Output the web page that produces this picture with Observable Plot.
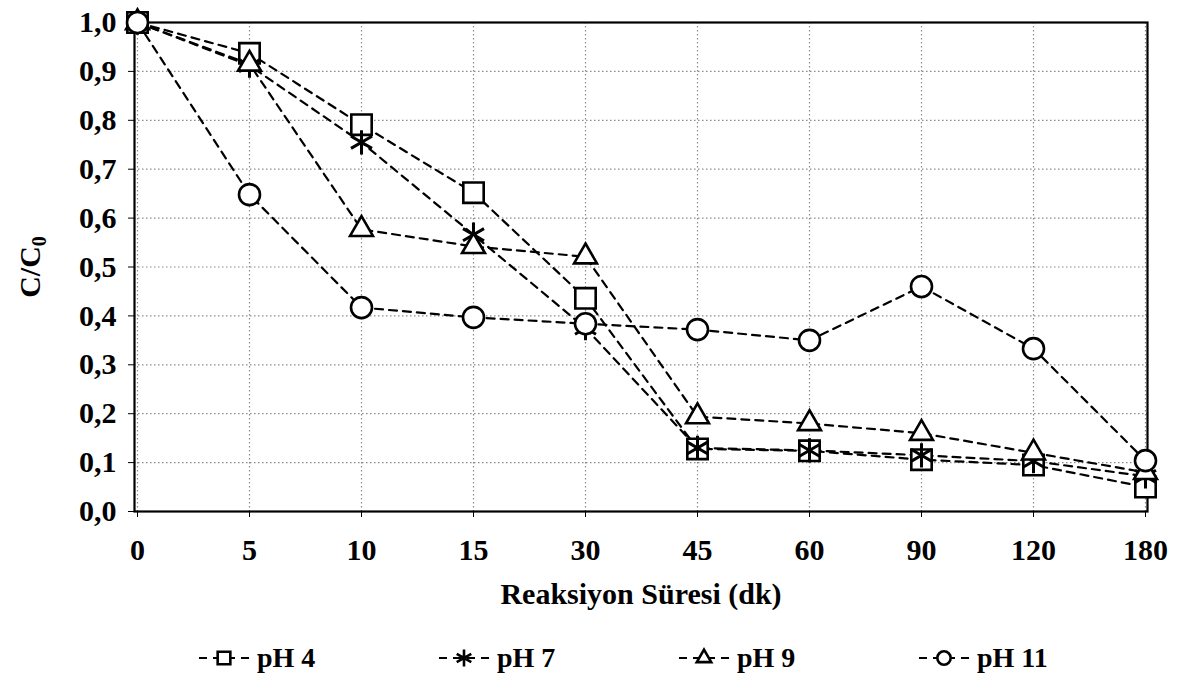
<!DOCTYPE html>
<html><head><meta charset="utf-8">
<script src="https://cdn.jsdelivr.net/npm/d3@7"></script>
<script src="https://cdn.jsdelivr.net/npm/@observablehq/plot@0.6"></script>
<style>
body{margin:0;background:#fff;font-family:"Liberation Serif",Tinos,"Times New Roman",Times,"DejaVu Serif",serif;}
#chart{width:1181px;height:681px;position:relative;overflow:hidden}
#legend{position:absolute;left:0;top:638px;width:1181px;height:40px}
.item{position:absolute;top:0;height:40px;display:flex;align-items:center;font-weight:bold;font-size:28px;color:#000;white-space:nowrap}
.item svg{margin-right:4px}
svg text{font-family:"Liberation Serif",Tinos,"Times New Roman",Times,"DejaVu Serif",serif !important;}
</style></head><body><div id="chart"><div id="plot"></div><div id="legend"></div></div>
<script>
const times = ["0","5","10","15","30","45","60","90","120","180"];
const pH4  = [1.000,0.937,0.791,0.652,0.436,0.128,0.124,0.106,0.095,0.050];
const pH7  = [1.000,0.912,0.755,0.566,0.375,0.130,0.125,0.115,0.103,0.072];
const pH9  = [1.000,0.915,0.577,0.542,0.521,0.194,0.180,0.160,0.120,0.080];
const pH11 = [1.000,0.648,0.417,0.397,0.384,0.372,0.350,0.460,0.333,0.104];
const seriesNames = ["pH 4","pH 7","pH 9","pH 11"];
const seriesSymbols = ["square","asterisk","triangle","circle"];
const yTicks = [0,0.1,0.2,0.3,0.4,0.5,0.6,0.7,0.8,0.9,1.0];

const seriesValues = [pH4,pH7,pH9,pH11];
const rows = [];
seriesNames.forEach((s,i)=>times.forEach((t,j)=>rows.push({s, t, v: seriesValues[i][j]})));
const sizes = {"square":11.5,"asterisk":11.5,"triangle":8.5,"circle":10.5};

const fmt = d => d.toFixed(1).replace(".", ",");
const grid = {stroke:"#8a8a8a", strokeOpacity:1, strokeWidth:1.2, strokeDasharray:"1.5,2.5"};
const FONT = "Liberation Serif, Tinos, Times New Roman, Times, DejaVu Serif, serif";

const marks = [
  Plot.gridX(times, grid),
  Plot.gridY(yTicks, grid),
  Plot.axisY({ticks:yTicks, tickFormat:fmt, tickSize:6, tickPadding:12, label:null, fontSize:30, fontWeight:"bold"}),
  Plot.axisX({tickSize:6, tickPadding:21, fontSize:30, fontWeight:"bold", label:"Reaksiyon Süresi (dk)", labelAnchor:"center", labelOffset:92}),
  Plot.frame({stroke:"#000", strokeWidth:2.2})
];
seriesNames.forEach(s => {
  marks.push(Plot.line(rows.filter(d=>d.s===s), {x:"t", y:"v", stroke:"#000", strokeWidth:2.2, strokeDasharray:"8,6"}));
});
seriesNames.forEach((s,i) => {
  const sym = seriesSymbols[i];
  marks.push(Plot.dot(rows.filter(d=>d.s===s), {x:"t", y:"v", symbol:sym, r:sizes[sym], fill: sym==="asterisk" ? "none" : "#fff", stroke:"#000", strokeWidth: sym==="asterisk" ? 3 : 2.6}));
});

const chart = Plot.plot({
  width:1181, height:625,
  marginLeft:134, marginRight:34, marginTop:22, marginBottom:114,
  style:{fontFamily:FONT, fontSize:"30px", fontWeight:"bold", color:"#000", background:"#fff", overflow:"visible"},
  x:{type:"point", domain:times, padding:0},
  y:{domain:[0,1]},
  marks
});
document.getElementById("plot").appendChild(chart);

// Y axis title with subscript
const svg = d3.select(chart);
const yl = svg.append("text")
  .attr("transform","translate(40,267) rotate(-90)")
  .attr("text-anchor","middle")
  .attr("font-size",30).attr("font-weight","bold")
  .attr("fill","#000");
yl.append("tspan").text("C/C");
yl.append("tspan").attr("font-size",20).attr("dy","6").text("0");

// Legend
const legendX = [197,437,677,917];
const legend = d3.select("#legend");
seriesNames.forEach((s,i)=>{
  const item = legend.append("div").attr("class","item").style("left",legendX[i]+"px");
  const sv = item.append("svg").attr("width",56).attr("height",30);
  sv.append("line").attr("x1",2).attr("x2",56).attr("y1",15).attr("y2",15)
    .attr("stroke","#000").attr("stroke-width",2.2).attr("stroke-dasharray","8,6");
  const sym = seriesSymbols[i];
  const symObj = {square:d3.symbolSquare, triangle:d3.symbolTriangle, circle:d3.symbolCircle, asterisk:d3.symbolAsterisk}[sym];
  const size = {square:160, triangle:90, circle:140, asterisk:200}[sym];
  sv.append("path").attr("d", d3.symbol(symObj, size)()).attr("transform","translate(27,15)")
    .attr("fill", sym==="asterisk" ? "none" : "#fff").attr("stroke","#000").attr("stroke-width",2.6);
  item.append("span").text(s);
});
</script>
</body></html>
